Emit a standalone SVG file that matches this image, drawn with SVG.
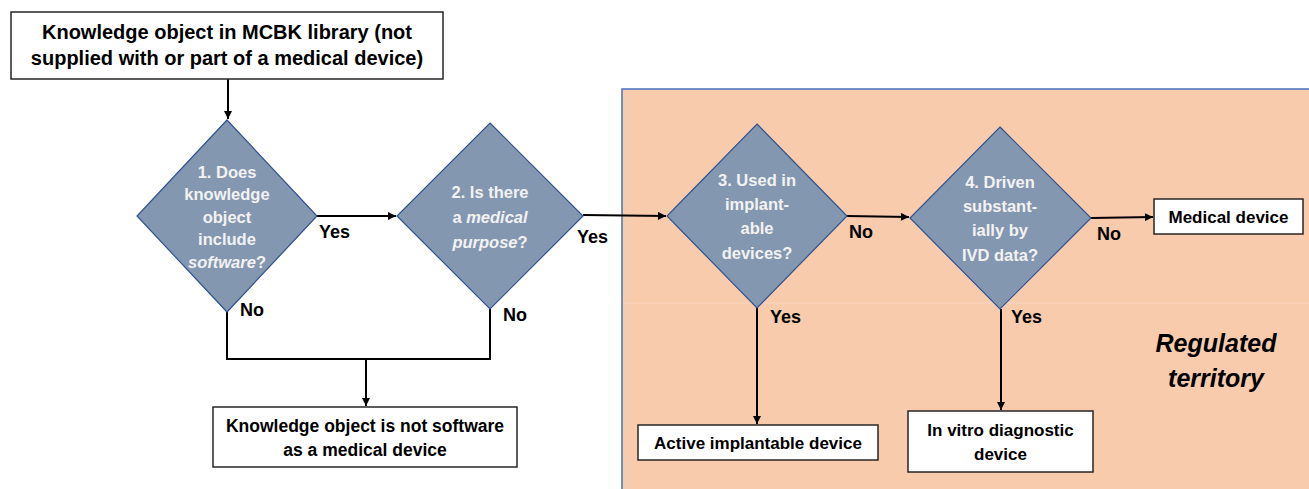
<svg xmlns="http://www.w3.org/2000/svg" width="1309" height="489" viewBox="0 0 1309 489">
<style>
.box{fill:#fff;stroke:#262626;stroke-width:1.5}
.dia{fill:#8497B0;stroke:#2F528F;stroke-width:1.2}
.t{font-family:"Liberation Sans",Arial,sans-serif;font-weight:bold;fill:#000;text-anchor:middle}
.dt{font-family:"Liberation Sans",Arial,sans-serif;font-weight:bold;fill:#F2F2F2;text-anchor:middle;font-size:16.5px}
.lbl{font-family:"Liberation Sans",Arial,sans-serif;font-weight:bold;fill:#000;font-size:18px}
.c{fill:none;stroke:#000;stroke-width:2}
</style>
<defs>
<marker id="ah" viewBox="0 0 10 10" refX="10" refY="5" markerWidth="9" markerHeight="8" markerUnits="userSpaceOnUse" orient="auto">
<path d="M0,0 L10,5 L0,10 z" fill="#000"/>
</marker>
</defs>
<rect width="1309" height="489" fill="#fff"/>
<g id="regulated-territory">
<rect x="622" y="89" width="690" height="403" fill="#F8CBAD" stroke="#4472C4" stroke-width="1.5"/>
<line x1="623" y1="303" x2="1309" y2="303" stroke="#FAD6BE" stroke-width="1"/>
<text class="t" x="1216" y="352" font-size="25" font-style="italic">Regulated</text>
<text class="t" x="1216" y="387" font-size="25" font-style="italic">territory</text>
</g>
<g id="connectors">
<path class="c" d="M228 79 V119" marker-end="url(#ah)"/>
<path class="c" d="M317 216 H396" marker-end="url(#ah)"/>
<path class="c" d="M583 215 L666 216" marker-end="url(#ah)"/>
<path class="c" d="M847 216 L909 217" marker-end="url(#ah)"/>
<path class="c" d="M1091 218 L1153 217" marker-end="url(#ah)"/>
<path class="c" d="M227 312 V359 H490 V309"/>
<path class="c" d="M366 359 V406" marker-end="url(#ah)"/>
<path class="c" d="M757 308 V424" marker-end="url(#ah)"/>
<path class="c" d="M1001 309 V410" marker-end="url(#ah)"/>
<text class="lbl" x="319" y="238">Yes</text>
<text class="lbl" x="577" y="243">Yes</text>
<text class="lbl" x="240" y="316">No</text>
<text class="lbl" x="503" y="321">No</text>
<text class="lbl" x="849" y="238">No</text>
<text class="lbl" x="1097" y="240">No</text>
<text class="lbl" x="770" y="323">Yes</text>
<text class="lbl" x="1011" y="323">Yes</text>
</g>
<g id="start">
<rect class="box" x="11" y="12" width="432" height="67"/>
<text class="t" x="227" y="39" font-size="20">Knowledge object in MCBK library (not</text>
<text class="t" x="227" y="65" font-size="20">supplied with or part of a medical device)</text>
</g>
<g id="q1">
<polygon class="dia" points="227,120 317,216 227,312 137,216"/>
<text class="dt" x="227" y="178">1. Does</text>
<text class="dt" x="227" y="200">knowledge</text>
<text class="dt" x="227" y="223">object</text>
<text class="dt" x="227" y="245">include</text>
<text class="dt" x="227" y="268"><tspan font-style="italic">software</tspan>?</text>
</g>
<g id="q2">
<polygon class="dia" points="490,123 583,216 490,309 397,216"/>
<text class="dt" x="490" y="198">2. Is there</text>
<text class="dt" x="490" y="223">a <tspan font-style="italic">medical</tspan></text>
<text class="dt" x="490" y="248"><tspan font-style="italic">purpose</tspan>?</text>
</g>
<g id="q3">
<polygon class="dia" points="757,124 847,216 757,308 667,216"/>
<text class="dt" x="757" y="186">3. Used in</text>
<text class="dt" x="757" y="210">implant-</text>
<text class="dt" x="757" y="234">able</text>
<text class="dt" x="757" y="259">devices?</text>
</g>
<g id="q4">
<polygon class="dia" points="1000,127 1091,218 1000,309 910,218"/>
<text class="dt" x="1000" y="188">4. Driven</text>
<text class="dt" x="1000" y="212">substant-</text>
<text class="dt" x="1000" y="236">ially by</text>
<text class="dt" x="1000" y="261">IVD data?</text>
</g>
<g id="not-samd">
<rect class="box" x="213" y="407" width="304" height="60"/>
<text class="t" x="365" y="432" font-size="17.5">Knowledge object is not software</text>
<text class="t" x="365" y="456" font-size="17.5">as a medical device</text>
</g>
<g id="active-implantable">
<rect class="box" x="638" y="425" width="240" height="35"/>
<text class="t" x="758" y="449" font-size="17">Active implantable device</text>
</g>
<g id="ivd">
<rect class="box" x="908" y="411" width="185" height="61"/>
<text class="t" x="1000.5" y="436" font-size="17">In vitro diagnostic</text>
<text class="t" x="1000.5" y="460" font-size="17">device</text>
</g>
<g id="medical-device">
<rect class="box" x="1154" y="199" width="149" height="35"/>
<text class="t" x="1228.5" y="223" font-size="17">Medical device</text>
</g>
</svg>
